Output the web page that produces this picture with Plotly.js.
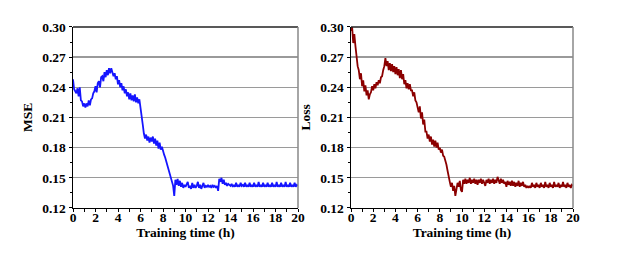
<!DOCTYPE html>
<html><head><meta charset="utf-8">
<script src="https://cdn.plot.ly/plotly-3.0.1.min.js"></script>
<style>html,body{margin:0;padding:0;background:#fff}#c{width:625px;height:259px}</style>
</head><body><div id="c"></div>
<script>
// time step between samples (h)
const timeStep = 0.1;
const mse = [
0.248,0.238,0.236,0.234,0.239,0.231,0.240,0.227,0.226,0.221,0.224,
0.220,0.224,0.221,0.227,0.222,0.228,0.229,0.234,0.236,0.241,
0.235,0.244,0.246,0.240,0.250,0.251,0.246,0.255,0.250,0.257,
0.252,0.259,0.254,0.259,0.255,0.251,0.254,0.248,0.251,0.243,
0.247,0.240,0.244,0.237,0.241,0.234,0.238,0.231,0.235,0.228,
0.234,0.227,0.232,0.226,0.233,0.225,0.230,0.224,0.228,0.221,
0.212,0.203,0.194,0.189,0.193,0.187,0.191,0.185,0.190,0.186,
0.191,0.184,0.189,0.182,0.187,0.179,0.185,0.178,0.181,0.175,
0.173,0.170,0.166,0.162,0.158,0.153,0.149,0.145,0.142,0.132,
0.148,0.143,0.149,0.142,0.147,0.141,0.145,0.140,0.143,0.141,
0.143,0.146,0.140,0.142,0.139,0.145,0.140,0.143,0.140,0.142,
0.146,0.140,0.143,0.139,0.142,0.145,0.140,0.142,0.141,0.143,
0.141,0.142,0.140,0.143,0.141,0.142,0.140,0.142,0.137,0.149,
0.146,0.150,0.144,0.148,0.143,0.145,0.142,0.144,0.143,0.142,
0.144,0.141,0.143,0.141,0.145,0.141,0.143,0.141,0.145,0.142,
0.143,0.141,0.145,0.141,0.143,0.141,0.145,0.141,0.143,0.141,
0.145,0.141,0.143,0.141,0.146,0.141,0.143,0.141,0.145,0.141,
0.143,0.141,0.145,0.141,0.143,0.141,0.145,0.141,0.143,0.141,
0.146,0.141,0.143,0.141,0.145,0.141,0.143,0.141,0.146,0.141,
0.143,0.141,0.145,0.141,0.143,0.141,0.145,0.141,0.143,0.142];
const loss = [
0.296,0.300,0.284,0.293,0.281,0.270,0.261,0.257,0.248,0.254,0.241,
0.247,0.236,0.242,0.232,0.237,0.228,0.233,0.235,0.241,0.237,
0.243,0.239,0.245,0.242,0.247,0.244,0.250,0.251,0.257,0.261,
0.269,0.261,0.266,0.257,0.264,0.256,0.263,0.255,0.261,0.253,
0.260,0.252,0.258,0.249,0.257,0.248,0.253,0.243,0.247,0.239,
0.244,0.238,0.243,0.237,0.237,0.231,0.235,0.227,0.225,0.220,
0.215,0.221,0.209,0.215,0.203,0.208,0.196,0.196,0.189,0.193,
0.186,0.191,0.183,0.188,0.181,0.187,0.180,0.185,0.178,0.180,
0.175,0.178,0.172,0.171,0.168,0.163,0.157,0.150,0.146,0.141,
0.145,0.137,0.142,0.132,0.140,0.145,0.141,0.147,0.138,0.136,
0.148,0.144,0.149,0.144,0.148,0.145,0.150,0.144,0.148,0.145,
0.149,0.144,0.148,0.143,0.148,0.145,0.149,0.144,0.148,0.145,
0.142,0.148,0.145,0.149,0.144,0.148,0.145,0.149,0.144,0.148,
0.145,0.151,0.146,0.144,0.149,0.145,0.148,0.144,0.146,0.141,
0.147,0.143,0.146,0.142,0.147,0.142,0.146,0.141,0.145,0.142,
0.147,0.141,0.145,0.142,0.146,0.141,0.143,0.140,0.142,0.140,
0.142,0.140,0.145,0.141,0.143,0.140,0.145,0.141,0.143,0.140,
0.145,0.141,0.143,0.140,0.146,0.141,0.143,0.140,0.145,0.141,
0.143,0.140,0.146,0.141,0.143,0.141,0.145,0.140,0.143,0.141,
0.146,0.141,0.143,0.140,0.145,0.141,0.143,0.140,0.143,0.142];
const xTicks = [0,2,4,6,8,10,12,14,16,18,20];
const yTicks = [0.12,0.15,0.18,0.21,0.24,0.27,0.30];
const yTickText = ['0.12','0.15','0.18','0.21','0.24','0.27','0.30'];
const xTitle = 'Training time (h)';
const yTitles = ['MSE','Loss'];

const time = mse.map((_, i) => +(i * timeStep).toFixed(2));

const font = {family:'Liberation Serif, Times New Roman, serif', size:13.5, color:'#000', weight:'bold'};
const labelPos = 0.197;
// axis with line + ticks + title
function xa(dom, anchor){
  return {domain:dom, anchor:anchor, range:[0,20], tickvals:xTicks, showticklabels:false,
    ticks:'outside', ticklen:3, tickwidth:1, tickcolor:'#000', showline:true, linecolor:'#000', linewidth:1.5,
    mirror:false, showgrid:false, zeroline:false,
    minor:{dtick:1, ticks:'outside', ticklen:3, tickcolor:'#000', showgrid:false},
    title:{text:xTitle, font:font, standoff:16}};
}
// overlay axis carrying the tick labels
function xl(dom, over){
  return {domain:dom, overlaying:over, anchor:'free', position:labelPos, range:[0,20],
    tickvals:xTicks, ticktext:xTicks.map(String), ticks:'', showline:false, showgrid:false, zeroline:false,
    tickfont:font};
}
function ya(dom, anchor, t){
  return {domain:dom, anchor:anchor, range:[0.12,0.30], tickvals:yTicks, ticktext:yTickText,
    ticks:'outside', ticklen:3, tickwidth:1, tickcolor:'#000', showline:true, linecolor:'#000', linewidth:1.5,
    showgrid:true, gridcolor:'#9a9a9a', gridwidth:1.3, zeroline:false, tickfont:font,
    minor:{dtick:0.015, ticks:'outside', ticklen:2, tickcolor:'#000', showgrid:false},
    title:{text:t, font:font, standoff:6}};
}
const yd = [0.197, 0.896];
const dL = [0.1168,0.4768], dR = [0.5616,0.9168];
const data = [
  {x:time, y:mse, type:'scatter', mode:'lines', line:{color:'#1515ff', width:1.8}, xaxis:'x', yaxis:'y', hoverinfo:'skip'},
  {x:time, y:loss, type:'scatter', mode:'lines', line:{color:'#8b0000', width:1.8}, xaxis:'x2', yaxis:'y2', hoverinfo:'skip'},
  // empty carriers so the label axes are drawn
  {x:[], y:[], type:'scatter', mode:'lines', xaxis:'x3', yaxis:'y', hoverinfo:'skip'},
  {x:[], y:[], type:'scatter', mode:'lines', xaxis:'x4', yaxis:'y2', hoverinfo:'skip'}
];
const layout = {
  width:625, height:259, margin:{l:0,r:0,t:0,b:0}, showlegend:false,
  paper_bgcolor:'#fff', plot_bgcolor:'#fff', font:font,
  xaxis: xa(dL,'y'), yaxis: ya(yd,'x',yTitles[0]),
  xaxis2: xa(dR,'y2'), yaxis2: ya(yd,'x2',yTitles[1]),
  xaxis3: xl(dL,'x'), xaxis4: xl(dR,'x2'),
  shapes:[
    {type:'line', xref:'x domain', yref:'y domain', x0:0, x1:1, y0:1, y1:1, line:{color:'#222', width:1.5}},
    {type:'line', xref:'x domain', yref:'y domain', x0:1, x1:1, y0:0, y1:1, line:{color:'#888', width:1.5}},
    {type:'line', xref:'x2 domain', yref:'y2 domain', x0:0, x1:1, y0:1, y1:1, line:{color:'#222', width:1.5}},
    {type:'line', xref:'x2 domain', yref:'y2 domain', x0:1, x1:1, y0:0, y1:1, line:{color:'#888', width:1.5}}
  ]
};
Plotly.newPlot('c', data, layout, {staticPlot:true, displayModeBar:false});
</script></body></html>
